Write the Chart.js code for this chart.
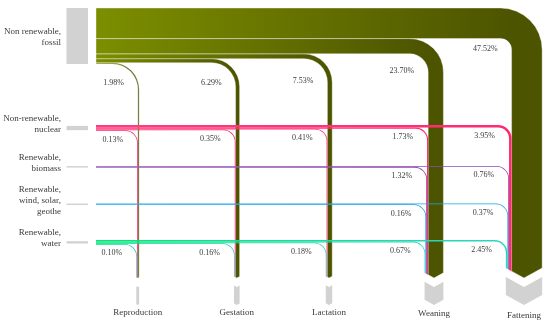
<!DOCTYPE html>
<html><head><meta charset="utf-8">
<script src="https://cdn.jsdelivr.net/npm/chart.js@4"></script>
<style>html,body{margin:0;padding:0;background:#fff}canvas{display:block}</style>
</head><body>
<canvas id="c" width="550" height="324"></canvas>
<script>
// ---------- data ----------
const sources = [['Non renewable,','fossil'],['Non-renewable,','nuclear'],['Renewable,','biomass'],['Renewable,','wind, solar,','geothe'],['Renewable,','water']];
const targets = ['Reproduction','Gestation','Lactation','Weaning','Fattening'];
const fossil  = [1.98, 6.29, 7.53, 23.70, 47.52];
const nuclear = [0.13, 0.35, 0.41, 1.73, 3.95];
const biomass = [0, 0, 0, 1.32, 0.76];
const wind    = [0, 0, 0, 0.16, 0.37];
const water   = [0.10, 0.16, 0.18, 0.67, 2.45];
const series  = [fossil, nuclear, biomass, wind, water];

// ---------- layout / style ----------
const sourceTop    = [8, 125, 166, 203.5, 240];
const targetCenter = [137.7, 236.8, 329, 434, 524];
const sourceRadius = [26, 12, 12, 12, 12];
const labelLift    = [1, 3, 3, 3, 3];
const unitPerPct = 0.6435;
const minW = 0.8;
const flowStartX = 96, nodeX0 = 66.5, nodeX1 = 88;
const flowEndY = 278, nodeTopY = 287, nodeBotY = 305, vSlope = 0.55;
const colors = [['#7c8e00','#4d5400'],['#ff3d7e','#ff2a6e'],['#9c62bf','#8a48b0'],['#2ab1ec','#1aa2e0'],['#00e676','#2fd4c0']];
const serif = '"Liberation Serif", "DejaVu Serif", serif';

const sankeyPlugin = {
  id: 'sankeyElbow',
  afterDraw(chart) {
    const ctx = chart.ctx;
    const xs = chart.scales.x, ys = chart.scales.y;
    const X = v => xs.getPixelForValue(v);
    const Y = v => ys.getPixelForValue(v);
    const L = v => Math.abs(ys.getPixelForValue(v) - ys.getPixelForValue(0));

    const W = series.map(arr => arr.map(v => v > 0 ? Math.max(minW, v * unitPerPct) : 0));
    const yT = series.map(() => []);
    const srcBottom = [];
    series.forEach((arr, s) => {
      let y = sourceTop[s];
      for (let t = targets.length - 1; t >= 0; t--) {
        if (W[s][t] > 0) { yT[s][t] = y; y += W[s][t]; }
      }
      srcBottom[s] = y;
    });
    const xL = series.map(() => []);
    const colW = [];
    targets.forEach((_, t) => {
      let tot = 0; for (let s = 0; s < series.length; s++) tot += W[s][t];
      colW[t] = tot;
      let x = targetCenter[t] - tot / 2;
      for (let s = series.length - 1; s >= 0; s--) {
        if (W[s][t] > 0) { xL[s][t] = x; x += W[s][t]; }
      }
    });
    const yb = (x, t) => flowEndY - vSlope * Math.abs(x - targetCenter[t]);

    ctx.save();
    series.forEach((arr, s) => {
      const h = Math.max(1.5, arr.reduce((a, b) => a + b, 0) * unitPerPct);
      const tot = W[s].reduce((a, b) => a + b, 0);
      const cyS = sourceTop[s] + tot / 2;
      ctx.fillStyle = '#d2d2d2';
      ctx.fillRect(X(nodeX0), Y(cyS - h / 2), X(nodeX1) - X(nodeX0), L(h));
      ctx.fillStyle = '#3a3a3a';
      ctx.font = '9px ' + serif;
      ctx.textAlign = 'right';
      ctx.textBaseline = 'middle';
      const lines = sources[s];
      const lh = 11;
      const blockC = cyS + (tot > 20 ? 1.5 : -4);
      lines.forEach((ln, i) => {
        ctx.fillText(ln, X(61), Y(blockC - (lines.length - 1) * lh / 2 + i * lh));
      });
    });

    const labels = [];
    series.forEach((arr, s) => {
      arr.forEach((v, t) => {
        const w = W[s][t]; if (!(w > 0)) return;
        const top = yT[s][t], bot = top + w;
        const l = xL[s][t], r = l + w;
        const rc = Math.max(sourceRadius[s], w / 2 + 11);
        const Ro = rc + w / 2, Ri = rc - w / 2;
        const cx = r - Ro, cy = top + Ro;
        const g = ctx.createLinearGradient(X(flowStartX), 0, X(l), 0);
        g.addColorStop(0, colors[s][0]); g.addColorStop(1, colors[s][1]);
        ctx.beginPath();
        ctx.moveTo(X(flowStartX), Y(top));
        ctx.lineTo(X(cx), Y(top));
        ctx.arc(X(cx), Y(cy), L(Ro), -Math.PI / 2, 0);
        ctx.lineTo(X(r), Y(yb(r, t)));
        if (targetCenter[t] > l && targetCenter[t] < r) ctx.lineTo(X(targetCenter[t]), Y(flowEndY));
        ctx.lineTo(X(l), Y(yb(l, t)));
        ctx.lineTo(X(l), Y(cy));
        ctx.arc(X(cx), Y(cy), L(Ri), 0, -Math.PI / 2, true);
        ctx.lineTo(X(flowStartX), Y(bot));
        ctx.closePath();
        ctx.fillStyle = g;
        ctx.fill();
        if (s === 0) {
          ctx.strokeStyle = 'rgba(255,255,255,0.55)';
          ctx.lineWidth = 0.7;
          ctx.stroke();
        }
        labels.push({ text: v.toFixed(2) + '%', x: l - 14, y: Math.min(cy - labelLift[s], srcBottom[s] + 18.5) });
      });
    });

    ctx.fillStyle = '#3a3a3a';
    ctx.font = '8px ' + serif;
    ctx.textAlign = 'right';
    ctx.textBaseline = 'middle';
    labels.forEach(o => ctx.fillText(o.text, X(o.x), Y(o.y)));

    targets.forEach((name, t) => {
      const hw = colW[t] / 2, c = targetCenter[t];
      ctx.beginPath();
      ctx.moveTo(X(c - hw), Y(nodeTopY - vSlope * hw));
      ctx.lineTo(X(c), Y(nodeTopY));
      ctx.lineTo(X(c + hw), Y(nodeTopY - vSlope * hw));
      ctx.lineTo(X(c + hw), Y(nodeBotY - vSlope * hw));
      ctx.lineTo(X(c), Y(nodeBotY));
      ctx.lineTo(X(c - hw), Y(nodeBotY - vSlope * hw));
      ctx.closePath();
      ctx.fillStyle = '#d2d2d2';
      ctx.fill();
      ctx.fillStyle = '#3a3a3a';
      ctx.font = '9px ' + serif;
      ctx.textAlign = 'center';
      ctx.textBaseline = 'middle';
      ctx.fillText(name, X(c), Y(312 + hw * 0.22));
    });
    ctx.restore();
  }
};

new Chart(document.getElementById('c'), {
  type: 'scatter',
  data: { datasets: [{ data: [], pointRadius: 0 }] },
  options: {
    responsive: false, animation: false, devicePixelRatio: 1,
    layout: { padding: 0 },
    scales: {
      x: { type: 'linear', min: 0, max: 550, display: false },
      y: { type: 'linear', min: 0, max: 324, reverse: true, display: false }
    },
    plugins: { legend: { display: false }, tooltip: { enabled: false } }
  },
  plugins: [sankeyPlugin]
});
</script>
</body></html>
